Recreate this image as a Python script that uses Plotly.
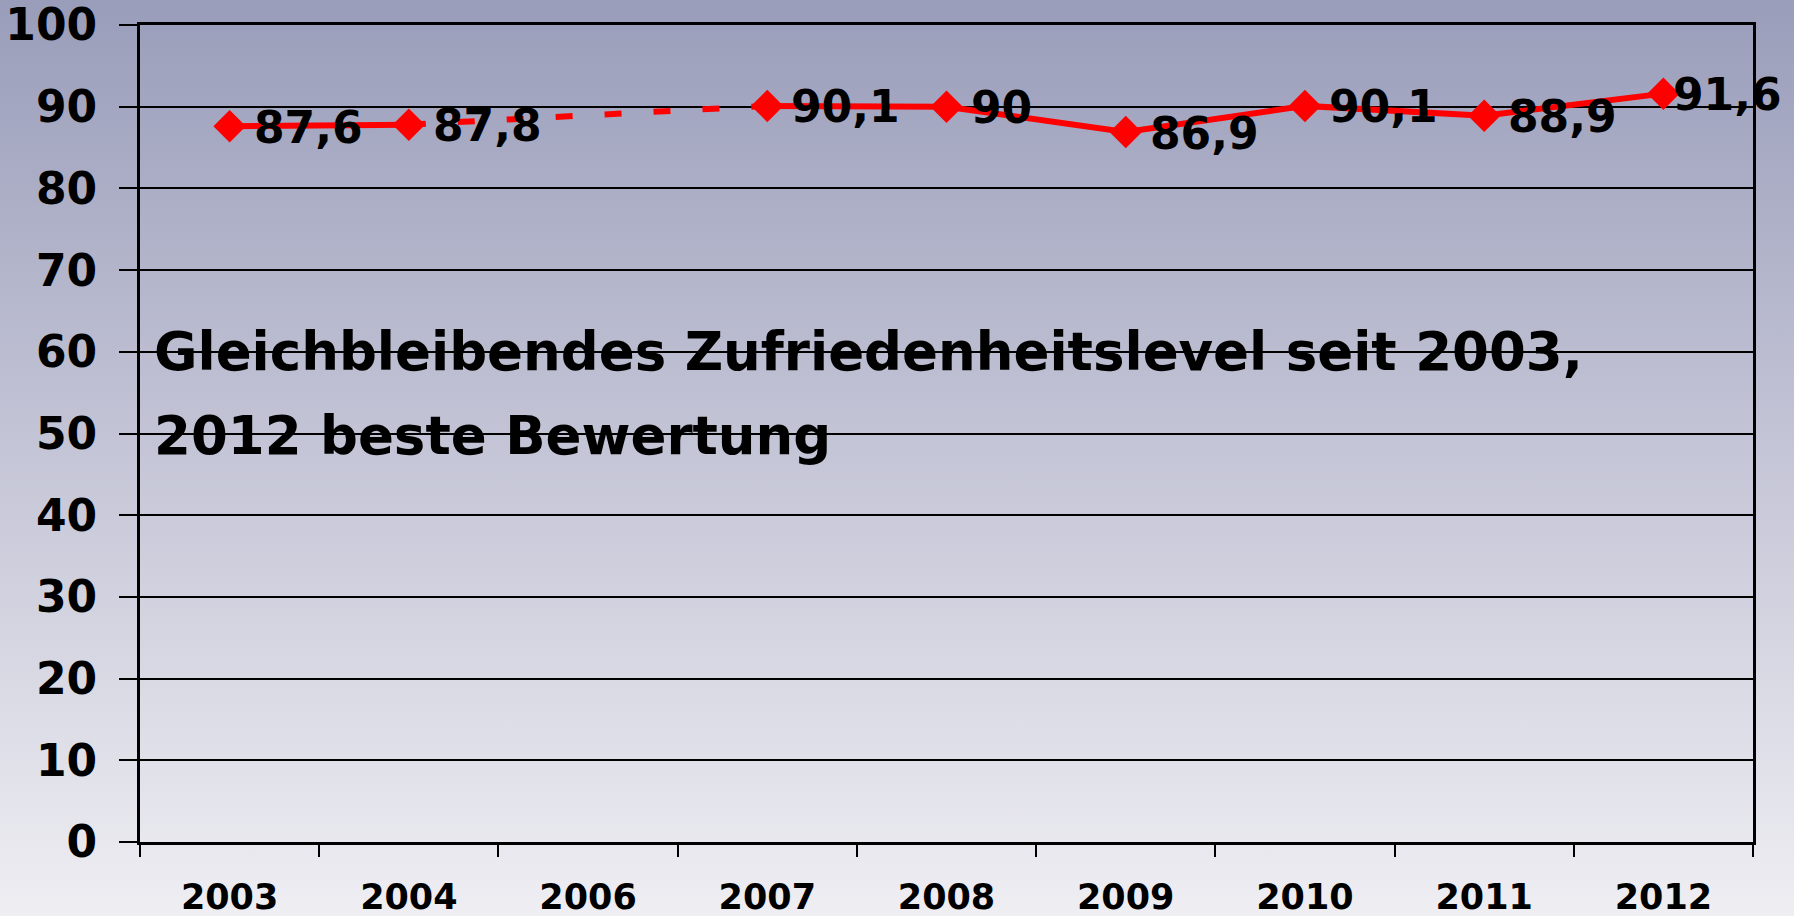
import base64
import plotly.graph_objects as go

years = ["2003", "2004", "2006", "2007", "2008", "2009", "2010", "2011", "2012"]
scores = [87.6, 87.8, None, 90.1, 90.0, 86.9, 90.1, 88.9, 91.6]
score_labels = ["87,6", "87,8", "", "90,1", "90", "86,9", "90,1", "88,9", "91,6"]
y_ticks = [0, 10, 20, 30, 40, 50, 60, 70, 80, 90, 100]
headline = ["Gleichbleibendes Zufriedenheitslevel seit 2003,", "2012 beste Bewertung"]

W, H = 1794, 916
ML, MR, MT, MB = 140, 41, 25, 74
PW, PH = W - ML - MR, H - MT - MB

FONT = "DejaVu Sans, Liberation Sans, Arial, sans-serif"
RED = "#ff0000"

# dashed bridge over the missing year (2004 -> 2007)
i0, i1 = 1, 3
bridge = go.Scatter(
    x=[years[i0], years[i1]], y=[scores[i0], scores[i1]],
    mode="lines", line=dict(color=RED, width=6, dash="17px,32px"),
    hoverinfo="skip", showlegend=False,
)
main = go.Scatter(
    x=years, y=scores, mode="lines+markers",
    line=dict(color=RED, width=6),
    marker=dict(symbol="diamond", size=25, color=RED),
    connectgaps=False, showlegend=False,
)

fig = go.Figure([bridge, main])

# gradient background
svg = (
    f'<svg xmlns="http://www.w3.org/2000/svg" width="{W}" height="{H}" preserveAspectRatio="none">'
    '<defs><linearGradient id="g" x1="0" y1="0" x2="0" y2="1">'
    '<stop offset="0" stop-color="#9a9dba"/><stop offset="1" stop-color="#efeef3"/>'
    '</linearGradient></defs><rect x="0" y="0" width="100%" height="100%" fill="url(#g)"/></svg>'
)
src = "data:image/svg+xml;base64," + base64.b64encode(svg.encode()).decode()

annotations = []
n = len(years)
for i, (v, lab) in enumerate(zip(scores, score_labels)):
    if v is None:
        continue
    annotations.append(dict(
        x=i, y=v, xref="x", yref="y", text=lab, showarrow=False,
        xanchor="left", yanchor="middle", xshift=(8 if i == n - 1 else 22), yshift=-1,
        font=dict(family=FONT, size=44, color="black", weight="bold"),
    ))

for line, yv in zip(headline, [60, 49.8]):
    annotations.append(dict(
        x=12 / PW, y=yv, xref="paper", yref="y", text=line, showarrow=False,
        xanchor="left", yanchor="middle",
        font=dict(family=FONT, size=53, color="black", weight="bold"),
    ))

fig.update_layout(
    width=W, height=H,
    margin=dict(l=ML, r=MR, t=MT, b=MB, pad=0, autoexpand=False),
    paper_bgcolor="#c8c9d8",
    plot_bgcolor="rgba(0,0,0,0)",
    images=[dict(
        source=src, xref="paper", yref="paper",
        x=-ML / PW, y=1 + MT / PH, sizex=W / PW, sizey=H / PH,
        xanchor="left", yanchor="top", sizing="stretch", layer="below",
    )],
    annotations=annotations,
    xaxis=dict(
        type="category", categoryorder="array", categoryarray=years,
        range=[-0.5, len(years) - 0.5], autorange=False, automargin=False,
        tickson="boundaries", ticks="outside", ticklen=12, tickwidth=2, tickcolor="black",
        tickangle=0, ticklabeloverflow="allow",
        showgrid=False, showline=True, linecolor="black", linewidth=3, mirror=True,
        tickfont=dict(family=FONT, size=35, color="black", weight="bold"),
        ticklabelstandoff=22, zeroline=False,
    ),
    yaxis=dict(
        range=[0, 100], autorange=False, automargin=False,
        tickvals=y_ticks, ticktext=[str(t) for t in y_ticks],
        ticks="outside", ticklen=18, tickwidth=2, tickcolor="black",
        ticklabeloverflow="allow",
        showgrid=True, gridcolor="black", gridwidth=2,
        showline=True, linecolor="black", linewidth=3, mirror=True,
        zeroline=False,
        tickfont=dict(family=FONT, size=44, color="black", weight="bold"),
        ticklabelstandoff=13,
    ),
)

fig.write_html(
    "out.html",
    config={"displayModeBar": False},
    post_script="document.body.style.margin='0';document.body.style.overflow='hidden';",
)
